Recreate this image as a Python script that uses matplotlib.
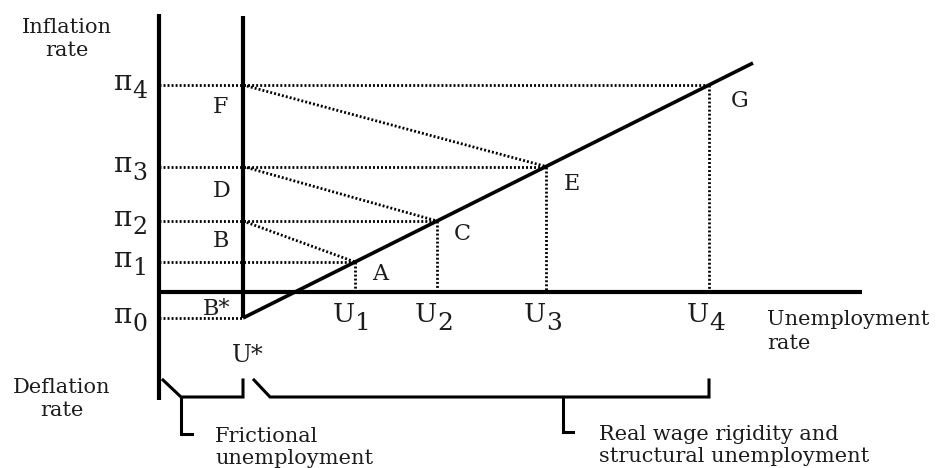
import matplotlib
matplotlib.use("Agg")
import matplotlib.pyplot as plt

plt.rcParams['font.family'] = ['DejaVu Serif']

# -------------------------------------------------
# Diagram values (unemployment on x, inflation on y)
# -------------------------------------------------

U_STAR = 8.4
U_VALUES = [19.6, 27.8, 38.7, 55.0]
U_SUBS = ["1", "2", "3", "4"]

PI_VALUES = [-2.6, 3.0, 7.1, 12.55, 20.7]
PI_SUBS = ["0", "1", "2", "3", "4"]

POINT_NAMES = ["A", "C", "E", "G"]
SHIFT_NAMES = ["B", "D", "F"]

LINE_END = [59.4, 22.9]

INK = "#1c1c1c"


fig = plt.figure(figsize=(9.39, 4.68), dpi=100)
ax = fig.add_axes([0, 0, 1, 1])
ax.set_xlim(-15.9, 78.0)
ax.set_ylim(-17.6, 29.2)
ax.axis("off")

dot = dict(color="black", lw=2.0, linestyle=(0, (0.7, 0.75)))

# --------------------------
# Axes of the diagram
# --------------------------

ax.plot([0, 0], [27.8, -10.8], color="black", lw=3.0, solid_capstyle="butt")
ax.plot([U_STAR, U_STAR], [27.6, PI_VALUES[0]], color="black", lw=3.0,
        solid_capstyle="butt")
ax.plot([0, 70.3], [0, 0], color="black", lw=3.0, solid_capstyle="butt")

# --------------------------
# Dotted guides
# --------------------------

ax.plot([0, U_STAR], [PI_VALUES[0], PI_VALUES[0]], **dot)

for k, u in enumerate(U_VALUES):
    p = PI_VALUES[k + 1]
    ax.plot([0, u], [p, p], **dot)
    ax.plot([u, u], [p, 0], **dot)

for k in range(3):
    ax.plot([U_STAR, U_VALUES[k]], [PI_VALUES[k + 2], PI_VALUES[k + 1]], **dot)

# --------------------------
# Long-run line
# --------------------------

line_x = [U_STAR] + U_VALUES + [LINE_END[0]]
line_y = PI_VALUES + [LINE_END[1]]
ax.plot(line_x, line_y, color="black", lw=2.6, solid_capstyle="butt")

# --------------------------
# Labels
# --------------------------


def sub_label(xy, base, sub, base_dy, sub_dy, size, sub_size):
    ax.annotate(base, xy, xytext=(0, base_dy), textcoords="offset points",
                ha="right", va="baseline", fontsize=size, color=INK)
    ax.annotate(sub, xy, xytext=(0, sub_dy), textcoords="offset points",
                ha="left", va="baseline", fontsize=sub_size, color=INK)


for p, s in zip(PI_VALUES, PI_SUBS):
    sub_label((-2.7, p), "π", s, -3.6, -9.6, 20, 17)

for u, s in zip(U_VALUES, U_SUBS):
    sub_label((u, 0), "U", s, -21.6, -27.4, 19, 18)

point_offsets = [(18, -13), (18, -13.5), (19, -17), (22, -16)]
for k, name in enumerate(POINT_NAMES):
    ax.annotate(name, (U_VALUES[k], PI_VALUES[k + 1]), xytext=point_offsets[k],
                textcoords="offset points", ha="center", va="baseline",
                fontsize=16, color=INK)

shift_offsets = [(-16, -19), (-15.5, -22), (-16.5, -20)]
for k, name in enumerate(SHIFT_NAMES):
    ax.annotate(name, (U_STAR, PI_VALUES[k + 2]), xytext=shift_offsets[k],
                textcoords="offset points", ha="center", va="baseline",
                fontsize=16, color=INK)

ax.annotate("B*", (U_STAR, PI_VALUES[0]), xytext=(-19, 2),
            textcoords="offset points", ha="center", va="baseline",
            fontsize=16, color=INK)
ax.annotate("U*", (U_STAR, PI_VALUES[0]), xytext=(3.5, -32),
            textcoords="offset points", ha="center", va="baseline",
            fontsize=17, color=INK)

ax.text(-9.2, 25.3, "Inflation\nrate", ha="center", va="center",
        fontsize=15, color=INK, linespacing=1.3)
ax.text(-9.7, -10.7, "Deflation\nrate", ha="center", va="center",
        fontsize=15, color=INK, linespacing=1.3)
ax.text(60.8, -3.95, "Unemployment\nrate", ha="left", va="center",
        fontsize=15, color=INK, linespacing=1.3)

# --------------------------
# Brackets
# --------------------------

br = dict(color="black", lw=2.2, solid_joinstyle="miter")

ax.plot([0.4, 2.2, U_STAR, U_STAR], [-8.8, -10.5, -10.5, -8.8], **br)
ax.plot([2.2, 2.2, 3.3], [-10.5, -14.2, -14.2], **br)
ax.text(5.6, -13.5, "Frictional\nunemployment", ha="left", va="top",
        fontsize=15, color=INK, linespacing=1.2)

ax.plot([9.5, 11.1, U_VALUES[3], U_VALUES[3]], [-8.8, -10.5, -10.5, -8.8], **br)
ax.plot([40.4, 40.4, 41.4], [-10.5, -14.0, -14.0], **br)
ax.text(44.0, -13.3, "Real wage rigidity and\nstructural unemployment",
        ha="left", va="top", fontsize=15, color=INK, linespacing=1.2)

fig.savefig("out.png", dpi=100)
